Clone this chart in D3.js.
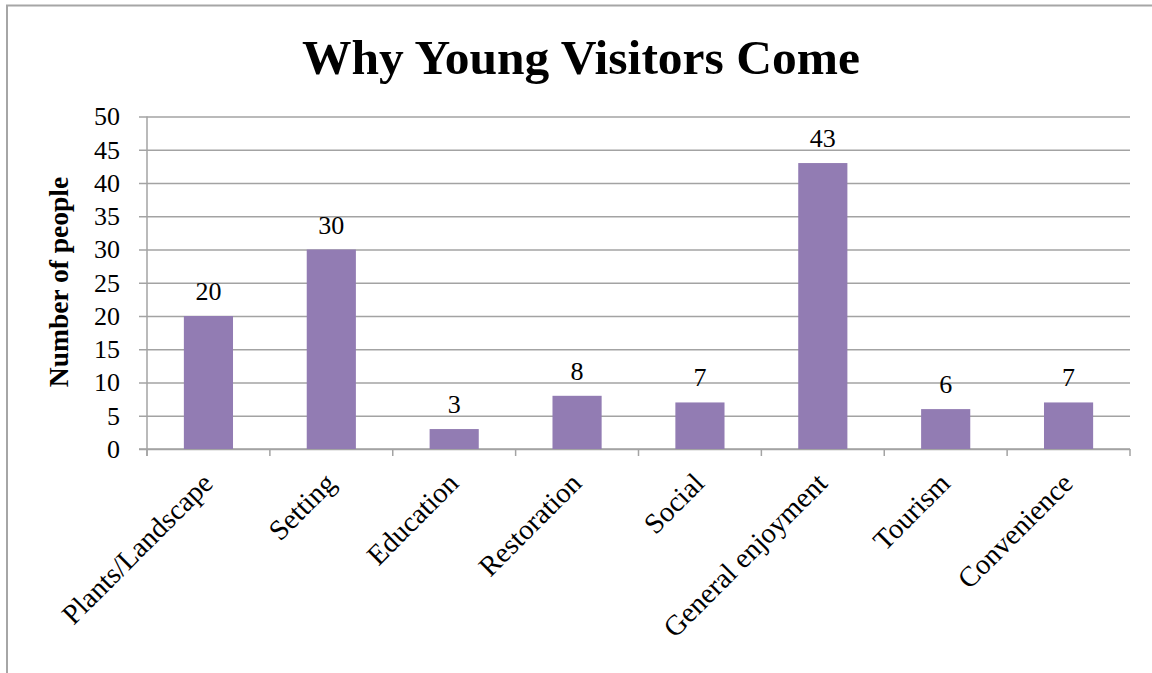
<!DOCTYPE html>
<html>
<head>
<meta charset="utf-8">
<script src="https://cdn.jsdelivr.net/npm/d3@7"></script>
<style>
  html, body { margin: 0; padding: 0; background: #fff; }
  svg { display: block; }
  text { font-family: "Liberation Serif", "DejaVu Serif", serif; fill: #000; }
</style>
</head>
<body>
<div id="chart"></div>
<script>
// data
var categories = ["Plants/Landscape", "Setting", "Education", "Restoration", "Social", "General enjoyment", "Tourism", "Convenience"];
var values = [20, 30, 3, 8, 7, 43, 6, 7];
var yTicks = [0, 5, 10, 15, 20, 25, 30, 35, 40, 45, 50];
var title = "Why Young Visitors Come";
var yTitle = "Number of people";

var W = 1152, H = 673;
var plot = {l: 147, r: 1130, t: 116.5, b: 449};
var gridColor = "#A3A3A3";
var barColor = "#927CB3";

var svg = d3.select("#chart").append("svg")
	.attr("width", W)
	.attr("height", H);

svg.append("rect").attr("width", W).attr("height", H).attr("fill", "#fff");

// outer chart frame (runs off the right and bottom edge)
svg.append("rect")
	.attr("x", 7).attr("y", 5.5)
	.attr("width", W + 20).attr("height", H + 20)
	.attr("fill", "none")
	.attr("stroke", "#A6A6A6")
	.attr("stroke-width", 2);

var x = d3.scaleBand()
	.domain(categories)
	.range([plot.l, plot.r])
	.paddingInner(0).paddingOuter(0);

var y = d3.scaleLinear()
	.domain([0, 50])
	.range([plot.b, plot.t]);

// gridlines + y ticks
var yAxis = d3.axisLeft(y)
	.tickValues(yTicks)
	.tickSize(-(plot.r - plot.l))
	.tickPadding(0)
	.tickFormat(function(d){ return ""; });

var gy = svg.append("g")
	.attr("transform", "translate(" + plot.l + ",0)")
	.call(yAxis);
gy.select(".domain").remove();
gy.selectAll(".tick line")
	.attr("x1", -8)
	.attr("stroke", gridColor)
	.attr("stroke-width", 1.5);

// y tick labels
svg.append("g").selectAll("text")
	.data(yTicks).enter()
	.append("text")
	.attr("x", 120)
	.attr("y", function(d){ return y(d); })
	.attr("dy", "0.34em")
	.attr("text-anchor", "end")
	.style("font-size", "26px")
	.text(function(d){ return d; });

// y axis line
svg.append("line")
	.attr("x1", plot.l).attr("x2", plot.l)
	.attr("y1", plot.t).attr("y2", plot.b + 7)
	.attr("stroke", gridColor)
	.attr("stroke-width", 1.5);

// x axis with ticks at category boundaries
var bounds = categories.map(function(c){ return x(c); }).concat([plot.r]);
svg.append("line")
	.attr("x1", plot.l - 8).attr("x2", plot.r)
	.attr("y1", plot.b).attr("y2", plot.b)
	.attr("stroke", gridColor)
	.attr("stroke-width", 1.5);
svg.append("g").selectAll("line")
	.data(bounds).enter()
	.append("line")
	.attr("x1", function(d){ return d; })
	.attr("x2", function(d){ return d; })
	.attr("y1", plot.b).attr("y2", plot.b + 7)
	.attr("stroke", gridColor)
	.attr("stroke-width", 1.5);

// bars (gap width 150%)
var barW = x.bandwidth() / 2.5;
var bars = svg.append("g").selectAll(".bar")
	.data(values).enter()
	.append("g").attr("class", "bar");

bars.append("rect")
	.attr("x", function(d, i){ return x(categories[i]) + (x.bandwidth() - barW) / 2; })
	.attr("y", function(d){ return y(d); })
	.attr("width", barW)
	.attr("height", function(d){ return plot.b - y(d); })
	.attr("fill", barColor);

// value labels
bars.append("text")
	.attr("x", function(d, i){ return x(categories[i]) + x.bandwidth() / 2; })
	.attr("y", function(d){ return y(d) - 16; })
	.attr("text-anchor", "middle")
	.style("font-size", "26px")
	.text(function(d){ return d; });

// category labels rotated -45
svg.append("g").selectAll("text")
	.data(categories).enter()
	.append("text")
	.attr("transform", function(d){
		var cx = x(d) + x.bandwidth() / 2 + 6;
		return "translate(" + cx + "," + (plot.b + 36) + ") rotate(-45)";
	})
	.attr("text-anchor", "end")
	.style("font-size", "28.5px")
	.text(function(d){ return d; });

// title
svg.append("text")
	.attr("x", 581).attr("y", 74)
	.attr("text-anchor", "middle")
	.style("font-size", "49.5px")
	.style("font-weight", "bold")
	.text(title);

// y axis title
svg.append("text")
	.attr("transform", "translate(68,282) rotate(-90)")
	.attr("text-anchor", "middle")
	.style("font-size", "27.5px")
	.style("font-weight", "bold")
	.text(yTitle);
</script>
</body>
</html>
